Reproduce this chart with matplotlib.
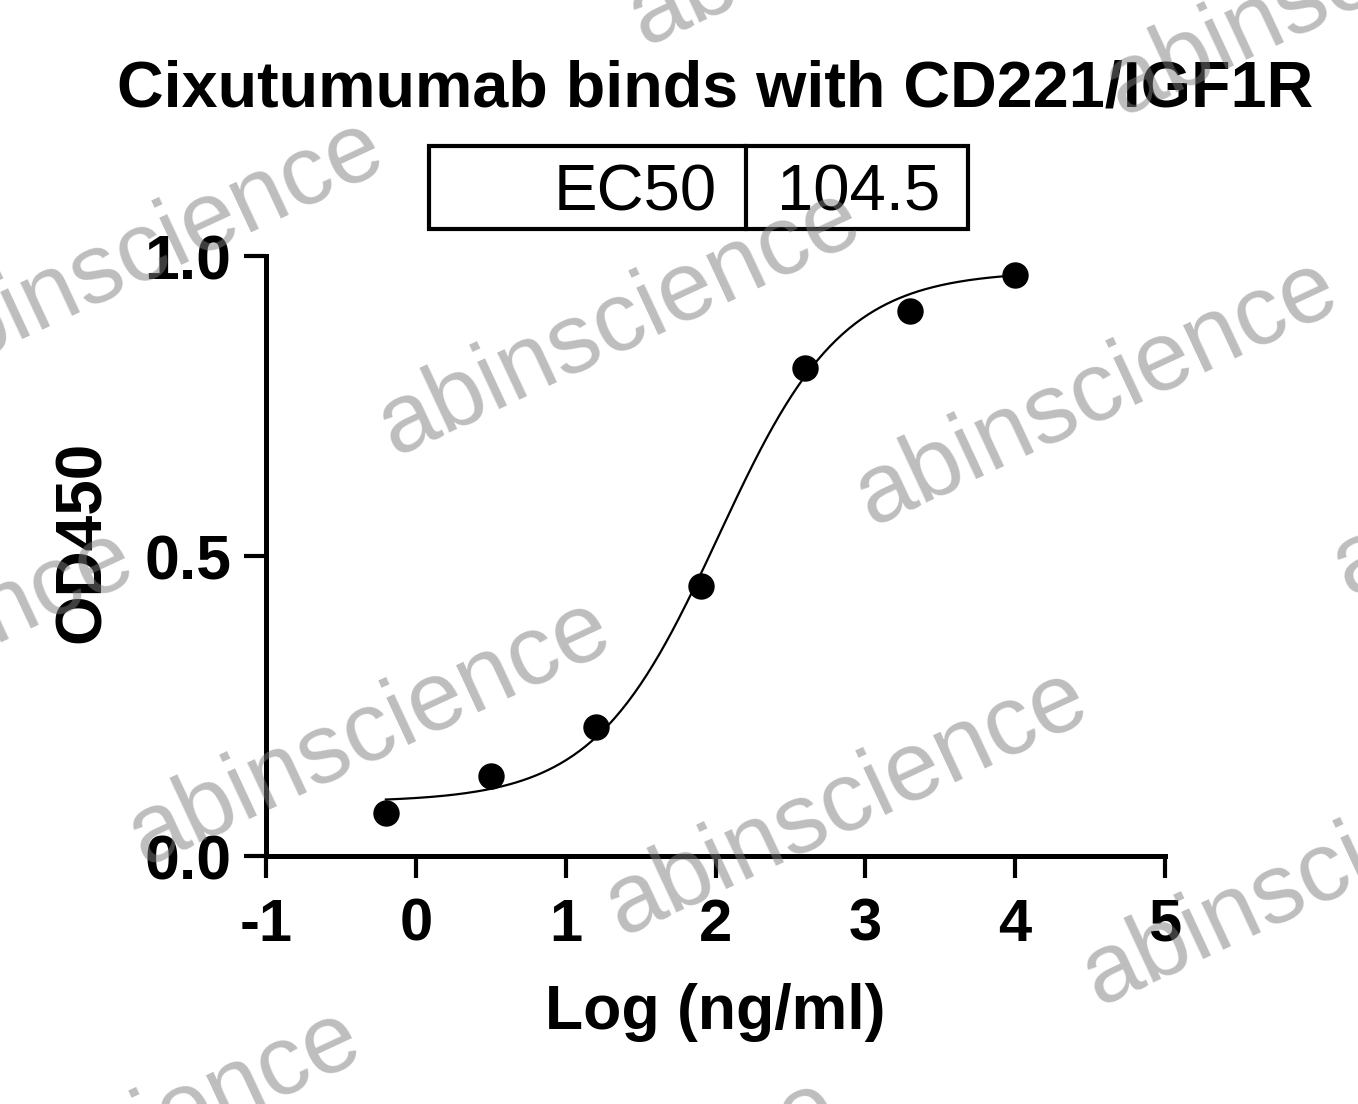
import numpy as np
import matplotlib
matplotlib.use("Agg")
import matplotlib.pyplot as plt
from matplotlib.patches import Rectangle
from matplotlib.lines import Line2D

plt.rcParams['font.family'] = ['Liberation Sans', 'DejaVu Sans']

# measured points, log concentration (ng/ml) vs OD450
log_conc = [-0.2, 0.5, 1.2, 1.9, 2.6, 3.3, 4.0]
od450 = [0.072, 0.133, 0.215, 0.450, 0.813, 0.908, 0.968]

# 4PL fit shown on the chart
ec50 = 104.5
fit_bottom = 0.09
fit_top = 0.975
fit_hill = 1.05

title = "Cixutumumab binds with CD221/IGF1R"
xticks = [-1, 0, 1, 2, 3, 4, 5]
yticks = [0.0, 0.5, 1.0]

W, H = 1358, 1104
fig = plt.figure(figsize=(W / 100, H / 100), dpi=100)

def fx(px):
    return px / W

def fy(py):
    return 1 - py / H

ax = fig.add_axes([fx(266), fy(856), fx(1165) - fx(266), fy(256) - fy(856)])
ax.set_xlim(-1, 5)
ax.set_ylim(0, 1)

xs = np.linspace(min(log_conc), max(log_conc), 300)
ys = fit_bottom + (fit_top - fit_bottom) / (1 + 10 ** ((np.log10(ec50) - xs) * fit_hill))
ax.plot(xs, ys, color='black', lw=1.6, zorder=3)
ax.plot(log_conc, od450, 'o', color='black', ms=18, zorder=4, clip_on=False)

for s in ['top', 'right']:
    ax.spines[s].set_visible(False)
for s in ['left', 'bottom']:
    ax.spines[s].set_linewidth(3.6)
    ax.spines[s].set_capstyle('projecting')

ax.set_xticks(xticks)
ax.set_xticklabels([str(v) for v in xticks])
ax.set_yticks(yticks)
ax.set_yticklabels(["%.1f" % v for v in yticks])
ax.tick_params(axis='both', direction='out', length=16, width=3, color='black')
ax.tick_params(axis='x', pad=14, labelsize=43)
ax.tick_params(axis='y', pad=9, labelsize=45)
for lab in ax.get_xticklabels() + ax.get_yticklabels():
    lab.set_fontweight('bold')

fig.text(fx(715), fy(106), title, ha='center', va='baseline',
         fontsize=46.5, fontweight='bold')
fig.text(fx(83), fy(542), "OD450", ha='center', va='center', rotation=90,
         fontsize=46, fontweight='bold')
fig.text(fx(715), fy(1029), "Log (ng/ml)", ha='center', va='baseline',
         fontsize=45, fontweight='bold')

# EC50 box
fig.patches.append(Rectangle((fx(429), fy(229)), fx(968) - fx(429), fy(146) - fy(229),
                             transform=fig.transFigure, fill=False, lw=3, ec='black'))
fig.lines.append(Line2D([fx(746), fx(746)], [fy(229), fy(146)],
                        transform=fig.transFigure, lw=3, color='black'))
fig.text(fx(717), fy(210), "EC50", ha='right', va='baseline', fontsize=47)
fig.text(fx(859), fy(210), "%.1f" % ec50, ha='center', va='baseline', fontsize=47)

# watermark
c0 = (620, 322)
a = (477, 70)
b = (-250, 410)
for i in range(-2, 4):
    for j in range(-2, 4):
        cx = c0[0] + i * a[0] + j * b[0]
        cy = c0[1] + i * a[1] + j * b[1]
        if -400 < cx < W + 400 and -300 < cy < H + 300:
            fig.text(fx(cx), fy(cy), "abinscience", ha='center', va='center',
                     rotation=25, fontsize=71, color='#7d7d7d', alpha=0.5,
                     zorder=10)

fig.savefig("out.png", dpi=100)
